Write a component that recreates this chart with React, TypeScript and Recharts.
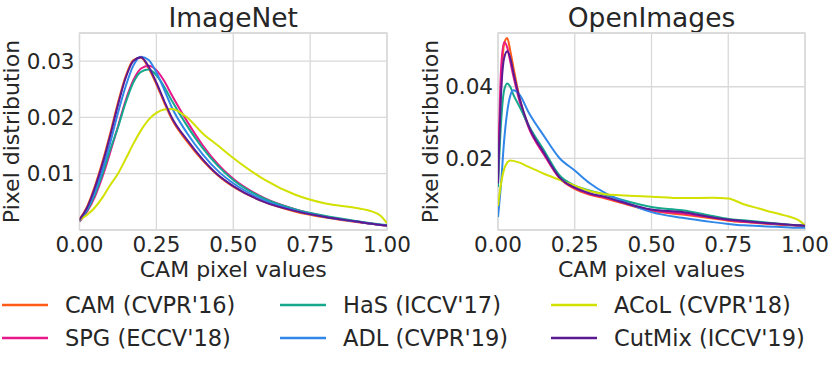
import { CartesianGrid, Label, Line, LineChart, ReferenceArea, XAxis, YAxis } from "recharts";

const FONT = "'DejaVu Sans', sans-serif";
const INK = "#262626";
const GRID = "#d9d9d9";

// ImageNet panel
const imagenetX = [0, 0.025, 0.05, 0.075, 0.1, 0.125, 0.15, 0.175, 0.2, 0.225, 0.25, 0.275, 0.3, 0.35, 0.4, 0.45, 0.5, 0.6, 0.7, 0.8, 0.9, 0.95, 0.98, 1.0];
const imagenetCAM = [0.0019, 0.0042, 0.0078, 0.0122, 0.0172, 0.0226, 0.0273, 0.0302, 0.0306, 0.0287, 0.0259, 0.0227, 0.0197, 0.0157, 0.0124, 0.0097, 0.0077, 0.005, 0.0033, 0.0022, 0.0014, 0.0011, 0.0009, 0.0008];
const imagenetSPG = [0.0015, 0.0033, 0.0059, 0.0095, 0.0138, 0.0184, 0.023, 0.0266, 0.0287, 0.0292, 0.0284, 0.0265, 0.024, 0.0193, 0.0151, 0.0117, 0.0091, 0.0057, 0.0037, 0.0024, 0.0015, 0.0011, 0.0009, 0.0008];
const imagenetHaS = [0.0016, 0.0035, 0.0063, 0.01, 0.0143, 0.0182, 0.0226, 0.0262, 0.0281, 0.0285, 0.0275, 0.0255, 0.023, 0.0185, 0.0146, 0.0114, 0.0089, 0.0056, 0.0037, 0.0025, 0.0016, 0.0012, 0.001, 0.0009];
const imagenetADL = [0.0017, 0.0037, 0.0068, 0.0108, 0.0155, 0.0208, 0.0255, 0.0292, 0.0308, 0.0302, 0.028, 0.025, 0.0218, 0.0172, 0.0135, 0.0105, 0.0083, 0.0053, 0.0035, 0.0023, 0.0015, 0.0011, 0.0009, 0.0008];
const imagenetACoL = [0.0018, 0.0027, 0.004, 0.0058, 0.008, 0.01, 0.0126, 0.0153, 0.0177, 0.0196, 0.0208, 0.0214, 0.0215, 0.02, 0.0172, 0.015, 0.0128, 0.009, 0.0063, 0.0047, 0.0039, 0.0033, 0.0025, 0.0012];
const imagenetCutMix = [0.0018, 0.004, 0.0075, 0.0118, 0.0168, 0.0222, 0.027, 0.03, 0.0307, 0.029, 0.0262, 0.023, 0.02, 0.016, 0.0126, 0.0098, 0.0078, 0.005, 0.0034, 0.0023, 0.0015, 0.0011, 0.0009, 0.0008];

// OpenImages panel
const openX = [0, 0.01, 0.02, 0.03, 0.04, 0.05, 0.07, 0.1, 0.15, 0.2, 0.25, 0.3, 0.35, 0.4, 0.5, 0.6, 0.7, 0.75, 0.8, 0.85, 0.9, 0.95, 0.98, 1.0];
const openCAM = [0.015, 0.04, 0.052, 0.0536, 0.05, 0.0455, 0.037, 0.0289, 0.0212, 0.0145, 0.0115, 0.0098, 0.0088, 0.0076, 0.0054, 0.0043, 0.0032, 0.0026, 0.0022, 0.0019, 0.0016, 0.0013, 0.0012, 0.0011];
const openSPG = [0.014, 0.045, 0.0524, 0.051, 0.047, 0.043, 0.036, 0.0285, 0.021, 0.0146, 0.0117, 0.01, 0.009, 0.0078, 0.0055, 0.0046, 0.0034, 0.0028, 0.0023, 0.002, 0.0017, 0.0014, 0.0012, 0.0011];
const openHaS = [0.012, 0.03, 0.039, 0.0409, 0.04, 0.0378, 0.0345, 0.0292, 0.0222, 0.0153, 0.0124, 0.011, 0.0098, 0.0085, 0.0064, 0.0055, 0.0039, 0.0031, 0.0027, 0.0023, 0.0019, 0.0015, 0.0013, 0.0012];
const openADL = [0.0036, 0.013, 0.025, 0.033, 0.0375, 0.039, 0.0378, 0.0328, 0.0262, 0.0201, 0.0166, 0.013, 0.0103, 0.0083, 0.005, 0.0034, 0.0022, 0.0017, 0.0013, 0.0011, 0.0009, 0.0007, 0.0006, 0.0006];
const openACoL = [0.0067, 0.013, 0.017, 0.0188, 0.0194, 0.0193, 0.0188, 0.0176, 0.0157, 0.014, 0.0124, 0.0108, 0.01, 0.0097, 0.0093, 0.0089, 0.009, 0.0088, 0.0072, 0.006, 0.0048, 0.0037, 0.0027, 0.0013];
const openCutMix = [0.013, 0.038, 0.048, 0.0499, 0.048, 0.044, 0.0368, 0.029, 0.0215, 0.0147, 0.0118, 0.0102, 0.0092, 0.0079, 0.0057, 0.005, 0.0035, 0.0029, 0.0025, 0.0021, 0.0018, 0.0015, 0.0013, 0.0012];

const xTicks = [0, 0.25, 0.5, 0.75, 1];

const methods = [
  { key: "cam", name: "CAM (CVPR'16)", color: "#ff5a17" },
  { key: "spg", name: "SPG (ECCV'18)", color: "#e8178a" },
  { key: "has", name: "HaS (ICCV'17)", color: "#15a88c" },
  { key: "adl", name: "ADL (CVPR'19)", color: "#3087e8" },
  { key: "acol", name: "ACoL (CVPR'18)", color: "#d2e100" },
  { key: "cutmix", name: "CutMix (ICCV'19)", color: "#5b1a94" },
];

const imagenetData = imagenetX.map((x, i) => ({
  x,
  cam: imagenetCAM[i],
  spg: imagenetSPG[i],
  has: imagenetHaS[i],
  adl: imagenetADL[i],
  acol: imagenetACoL[i],
  cutmix: imagenetCutMix[i],
}));

const openData = openX.map((x, i) => ({
  x,
  cam: openCAM[i],
  spg: openSPG[i],
  has: openHaS[i],
  adl: openADL[i],
  acol: openACoL[i],
  cutmix: openCutMix[i],
}));

// legend placement: column-major like matplotlib ncol=3
const legendCols = [2, 280, 551];
const legendRows = [20, 53];

function Panel({
  title,
  data,
  left,
  width,
  yAxisWidth,
  yMax,
  yTicks,
  yLabelOffset,
}: {
  title: string;
  data: any[];
  left: number;
  width: number;
  yAxisWidth: number;
  yMax: number;
  yTicks: number[];
  yLabelOffset: number;
}) {
  const plotRight = width - 26;
  const center = (yAxisWidth + plotRight) / 2;
  return (
    <div style={{ position: "absolute", left, top: 0, width, height: 290 }}>
      <div
        style={{
          position: "absolute",
          left: center - 150,
          width: 300,
          top: 5,
          textAlign: "center",
          fontFamily: FONT,
          fontSize: 26.5,
          lineHeight: "26px",
          color: INK,
        }}
      >
        {title}
      </div>
      <LineChart
        width={width}
        height={290}
        data={data}
        margin={{ top: 33, right: 26, bottom: 0, left: 0 }}
        style={{ position: "absolute", left: 0, top: 0 }}
      >
        <CartesianGrid stroke={GRID} strokeWidth={1.3} />
        <ReferenceArea x1={0} x2={1} y1={0} y2={yMax} fill="#fff" fillOpacity={0} stroke={GRID} strokeWidth={1.3} />
        <XAxis
          type="number"
          dataKey="x"
          domain={[0, 1]}
          ticks={xTicks}
          interval={0}
          tickFormatter={(v) => v.toFixed(2)}
          tick={{ fontSize: 21.5, fill: INK, fontFamily: FONT }}
          tickLine={false}
          axisLine={false}
          tickSize={0}
          tickMargin={7}
          height={60}
          allowDataOverflow
        >
          <Label value="CAM pixel values" position="insideBottom" offset={13} fill={INK} fontSize={22} fontFamily={FONT} />
        </XAxis>
        <YAxis
          type="number"
          domain={[0, yMax]}
          ticks={yTicks}
          interval={0}
          tickFormatter={(v) => v.toFixed(2)}
          tick={{ fontSize: 21.5, fill: INK, fontFamily: FONT }}
          tickLine={false}
          axisLine={false}
          tickSize={0}
          tickMargin={5}
          width={yAxisWidth}
          allowDataOverflow
        >
          <Label
            value="Pixel distribution"
            angle={-90}
            position="insideLeft"
            offset={yLabelOffset}
            fill={INK}
            fontSize={22}
            fontFamily={FONT}
            style={{ textAnchor: "middle" }}
          />
        </YAxis>
        {methods.map((m) => (
          <Line
            key={m.key}
            type="monotone"
            dataKey={m.key}
            stroke={m.color}
            strokeWidth={2}
            dot={false}
            isAnimationActive={false}
          />
        ))}
      </LineChart>
    </div>
  );
}

export default function App() {
  return (
    <div style={{ position: "absolute", left: 0, top: 0, width: 831, height: 371, background: "#fff" }}>
      <Panel
        title="ImageNet"
        data={imagenetData}
        left={0}
        width={413}
        yAxisWidth={79.5}
        yMax={0.035}
        yTicks={[0.01, 0.02, 0.03]}
        yLabelOffset={11}
      />
      <Panel
        title="OpenImages"
        data={openData}
        left={415}
        width={416}
        yAxisWidth={83}
        yMax={0.055}
        yTicks={[0.02, 0.04]}
        yLabelOffset={15.5}
      />
      <svg width={831} height={86} style={{ position: "absolute", left: 0, top: 285 }}>
        {methods.map((m, i) => {
          const x = legendCols[Math.floor(i / 2)];
          const y = legendRows[i % 2];
          return (
            <g key={m.key}>
              <line x1={x} x2={x + 46} y1={y} y2={y} stroke={m.color} strokeWidth={2.3} />
              <text x={x + 63} y={y + 7.8} fill={INK} fontSize={22.5} fontFamily={FONT}>
                {m.name}
              </text>
            </g>
          );
        })}
      </svg>
    </div>
  );
}
